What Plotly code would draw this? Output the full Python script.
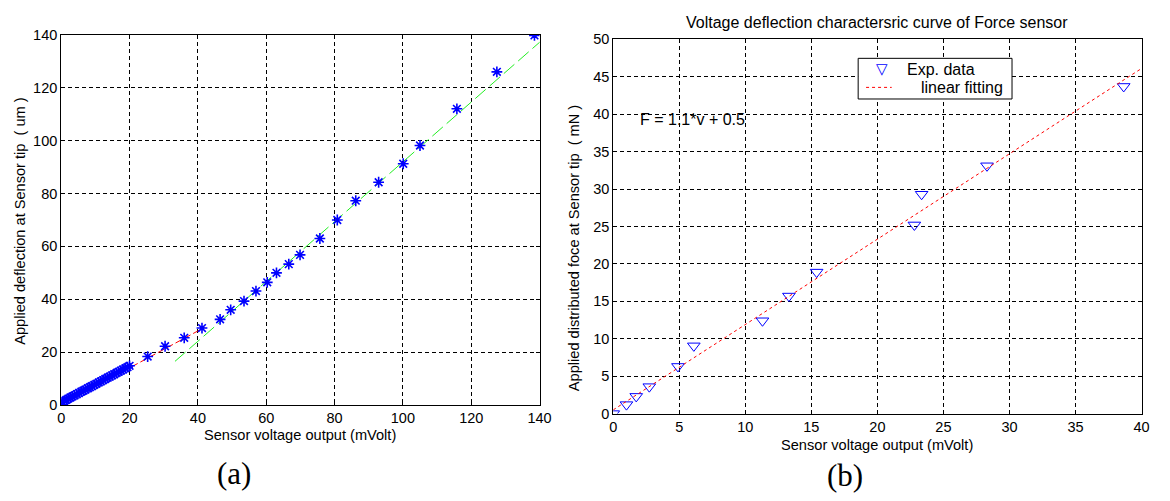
import plotly.graph_objects as go

# ---------------- (a) tip deflection vs. sensor voltage ----------------
defl_mv = [0, 0.4, 0.9, 1.5, 2.1, 2.7, 3.3, 3.9, 4.6, 5.2, 5.9, 6.5, 7.1, 7.8,
           8.4, 9.0, 9.7, 10.3, 11.0, 11.6, 12.3, 12.9, 13.6, 14.2, 14.9, 15.5,
           16.2, 16.8, 17.5, 18.1, 18.8, 19.4, 20.0,
           25.3, 30.4, 36.0, 41.2, 46.5, 49.6, 53.5, 57.0, 60.3, 63.0, 66.6,
           69.9, 75.7, 80.8, 86.2, 92.9, 100.1, 105.0, 115.8, 127.5, 138.5]
defl_um = [0, 1.0, 1.5, 1.9, 2.4, 2.8, 3.2, 3.6, 4.1, 4.5, 5.0, 5.4, 5.8, 6.3,
           6.7, 7.1, 7.6, 8.0, 8.5, 8.9, 9.4, 9.8, 10.3, 10.7, 11.2, 11.6,
           12.1, 12.5, 13.0, 13.4, 13.9, 14.3, 14.8,
           18.3, 22.2, 25.4, 29.1, 32.4, 36.0, 39.3, 43.1, 46.4, 50.0, 53.3,
           56.8, 63.0, 70.0, 77.3, 84.3, 91.3, 98.2, 112.1, 126.1, 139.9]

# piecewise linear fits: [slope, intercept], fitted voltage span
low_fit_coef = [0.70, 0.0]
low_fit_span = [0.0, 42.0]
high_fit_coef = [1.132, -21.2]
high_fit_span = [33.3, 142.5]

# ---------------- (b) distributed force vs. sensor voltage ----------------
force_mv = [0, 1.0, 1.74, 2.73, 4.9, 6.1, 11.3, 13.3, 15.4, 22.8, 23.35, 28.3, 38.65]
force_mn = [0, 1.2, 2.3, 3.6, 6.3, 9.05, 12.4, 15.7, 18.9, 25.2, 29.3, 33.1, 43.7]

force_fit_coef = [1.14, 0.5]
force_fit_span = [0.0, 40.0]

legend_labels = ["Exp. data", "linear fitting"]

W, H = 1170, 501
FONT = "Liberation Sans, Arial, sans-serif"
BLUE = "#0000ff"
RED = "#ff0000"


def fit_line(coef, span):
    xs = list(span)
    return xs, [coef[0] * v + coef[1] for v in xs]


fig = go.Figure()

lx, ly = fit_line(low_fit_coef, low_fit_span)
fig.add_trace(go.Scatter(x=lx, y=ly, mode="lines", xaxis="x", yaxis="y",
                         line=dict(color=RED, width=1, dash="7px,3px")))
hx, hy = fit_line(high_fit_coef, high_fit_span)
fig.add_trace(go.Scatter(x=hx, y=hy, mode="lines", xaxis="x", yaxis="y",
                         line=dict(color="#22ee22", width=1, dash="14px,5px")))
fig.add_trace(go.Scatter(x=defl_mv, y=defl_um, mode="markers", xaxis="x", yaxis="y",
                         marker=dict(symbol="asterisk-open", size=9, color=BLUE,
                                     line=dict(color=BLUE, width=1.6))))

fig.add_trace(go.Scatter(x=force_mv, y=force_mn, mode="markers", xaxis="x2", yaxis="y2",
                         name=legend_labels[0],
                         marker=dict(symbol="triangle-down-open", size=11, color=BLUE,
                                     line=dict(color=BLUE, width=1))))
fx, fy = fit_line(force_fit_coef, force_fit_span)
fig.add_trace(go.Scatter(x=fx, y=fy, mode="lines", xaxis="x2", yaxis="y2",
                         name=legend_labels[1],
                         line=dict(color=RED, width=1, dash="3px,3px")))

axis_style = dict(showline=True, linecolor="black", linewidth=1, mirror="ticks",
                  ticks="inside", ticklen=4, tickcolor="black",
                  showgrid=True, gridcolor="black", gridwidth=1, griddash="4px,3px",
                  zeroline=False, tickfont=dict(family=FONT, size=14.5, color="black"))

fig.update_layout(
    width=W, height=H,
    margin=dict(l=0, r=0, t=0, b=0),
    paper_bgcolor="white", plot_bgcolor="white",
    font=dict(family=FONT, color="black"),
    showlegend=False,
    xaxis=dict(domain=[58 / W, 543 / W], range=[0, 140], dtick=20, anchor="y", **axis_style),
    yaxis=dict(domain=[1 - 410 / H, 1 - 28 / H], range=[0, 140], dtick=20, anchor="x", **axis_style),
    xaxis2=dict(domain=[617.7 / W, 1153.3 / W], range=[0, 40], dtick=5, anchor="y2", **axis_style),
    yaxis2=dict(domain=[1 - 419 / H, 1 - 32.3 / H], range=[0, 50], dtick=5, anchor="x2", **axis_style),
)


def px(x, y):
    return x / W, 1 - y / H


def label(text, x, y, font, xanchor="center", **kw):
    fx_, fy_ = px(x, y)
    fig.add_annotation(text=text, xref="paper", yref="paper", x=fx_, y=fy_,
                       xanchor=xanchor, yanchor="middle", showarrow=False, font=font, **kw)


# legend box for panel (b): white, opaque over the grid
bx0, by0 = px(866, 52)
bx1, by1 = px(1022, 94)
fig.add_shape(type="rect", xref="paper", yref="paper", x0=bx0, x1=bx1, y0=by1, y1=by0,
              line=dict(color="black", width=1), fillcolor="white", layer="above")
sx0, sy = px(874, 82)
sx1, _ = px(900, 82)
fig.add_shape(type="line", xref="paper", yref="paper", x0=sx0, x1=sx1, y0=sy, y1=sy,
              line=dict(color=RED, width=1, dash="3px,3px"), layer="above")
leg_font = dict(family=FONT, size=16, color="black")
label("\u25bd", 890, 63.5, dict(family="DejaVu Sans", size=15, color=BLUE))
label(legend_labels[0], 913, 63.5, leg_font, xanchor="left")
label(legend_labels[1], 928, 82, leg_font, xanchor="left")

txt = dict(family=FONT, size=14.6, color="black")
label("Sensor voltage output (mVolt)", 300, 441, txt)
label("Sensor voltage output (mVolt)", 885.5, 451, txt)
label("Applied deflection at Sensor tip \u00a0( um )", 16, 220, txt, textangle=-90)
label("Applied distributed foce at Sensor tip \u00a0( mN )", 578, 248, txt, textangle=-90)
label("Voltage deflection charactersric curve of Force sensor", 885.5, 15,
      dict(family=FONT, size=16, color="black"))

fig.add_annotation(text=f"F = {force_fit_coef[0]:.1f}*v + {force_fit_coef[1]:.1f}",
                   xref="x2", yref="y2", x=1.9, y=39.3, xanchor="left", yanchor="middle",
                   showarrow=False, font=dict(family=FONT, size=16, color="black"))

cap = dict(family="Liberation Serif, Times New Roman, serif", size=31, color="black")
label("(a)", 233.5, 481, cap)
label("(b)", 852.5, 483, cap)

fig.write_html("out.html")
